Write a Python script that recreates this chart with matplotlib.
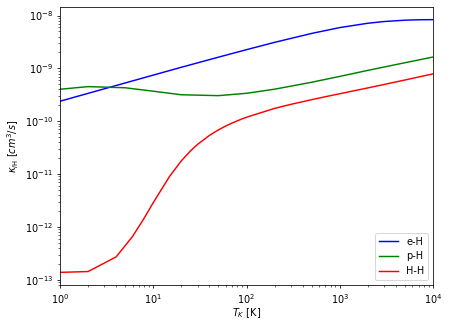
import matplotlib
matplotlib.use("Agg")
import matplotlib.pyplot as plt
import numpy as np

plt.rcParams['figure.dpi'] = 70
plt.rcParams['savefig.dpi'] = 70

# e-H
T_eH = [1, 2, 5, 10, 20, 50, 100, 200, 500, 1000, 2000, 3000, 5000, 7000, 10000]
k_eH = [2.39e-10, 3.37e-10, 5.30e-10, 7.46e-10, 1.05e-9, 1.63e-9, 2.26e-9, 3.11e-9,
        4.59e-9, 5.92e-9, 7.15e-9, 7.71e-9, 8.17e-9, 8.32e-9, 8.37e-9]
# p-H
T_pH = [1, 2, 5, 10, 20, 50, 100, 200, 500, 1000, 2000, 5000, 10000]
k_pH = [4.03e-10, 4.52e-10, 4.30e-10, 3.70e-10, 3.17e-10, 3.05e-10, 3.38e-10, 4.04e-10,
        5.47e-10, 7.05e-10, 9.17e-10, 1.28e-9, 1.64e-9]
# H-H
T_HH = [1, 2, 4, 6, 8, 10, 15, 20, 25, 30, 40, 50, 60, 70, 80, 90, 100, 200, 300,
        500, 700, 1000, 2000, 3000, 5000, 7000, 10000]
k_HH = [1.38e-13, 1.43e-13, 2.71e-13, 6.60e-13, 1.47e-12, 2.88e-12, 9.10e-12, 1.78e-11,
        2.73e-11, 3.67e-11, 5.38e-11, 6.86e-11, 8.14e-11, 9.25e-11, 1.02e-10, 1.11e-10,
        1.19e-10, 1.75e-10, 2.09e-10, 2.56e-10, 2.91e-10, 3.31e-10, 4.27e-10, 4.97e-10,
        6.03e-10, 6.87e-10, 7.87e-10]

fig = plt.figure(figsize=(450/70, 326/70), dpi=70)
ax = fig.add_axes([60/450, 41/326, 373/450, 278/326])
ax.plot(T_eH, k_eH, color='blue', label='e-H')
ax.plot(T_pH, k_pH, color='green', label='p-H')
ax.plot(T_HH, k_HH, color='red', label='H-H')
ax.set_xscale('log')
ax.set_yscale('log')
ax.set_xlim(1, 1e4)
ax.set_xlabel(r'$T_K$ [K]', labelpad=1)
ax.set_ylabel(r'$\kappa_{i\rm H}$ [$cm^3/s$]')
ax.legend(loc='lower right')
fig.savefig('out.png', dpi=70)
